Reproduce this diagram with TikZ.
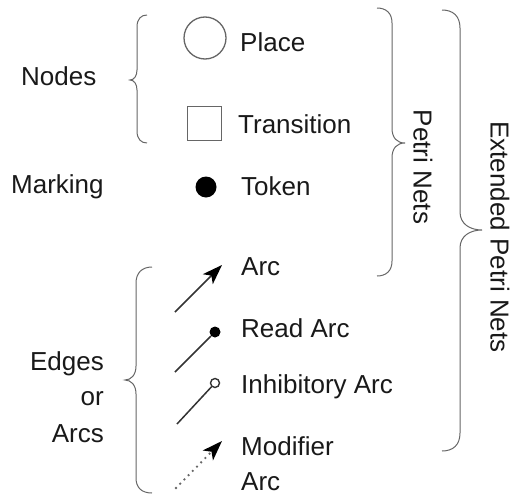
\documentclass[tikz,border=0pt]{standalone}
\usepackage{fontspec}
\setmainfont{Liberation Sans}
\usetikzlibrary{arrows.meta}
\begin{document}
\begin{tikzpicture}[x=1pt,y=-1pt,
  lbl/.style={font=\fontsize{26}{30}\selectfont, inner sep=0pt, text=black!90},
  brc/.style={draw=black!60, line width=1pt},
  shp/.style={draw=black!60, line width=1.3pt},
  arcline/.style={draw=black!80, line width=1.5pt},
  tip/.style={-{Stealth[length=20pt,width=14pt,inset=5pt,black]}}]
\useasboundingbox (0,0) rectangle (518,495);
% braces
\draw[brc] (147,15) .. controls (141,15) and (137,19) .. (137,27) -- (137,70)
  .. controls (137,76) and (134,80) .. (130,80)
  .. controls (134,80) and (137,84) .. (137,90) -- (137,131)
  .. controls (137,139) and (141,143) .. (147,143);
\draw[brc] (152,267) .. controls (142,267) and (136,273) .. (136,283) -- (136,366)
  .. controls (136,375) and (131,380) .. (125,380)
  .. controls (131,380) and (136,385) .. (136,394) -- (136,478)
  .. controls (136,488) and (142,493) .. (152,493);
\draw[brc] (377,8) .. controls (386,8) and (392,13) .. (392,23) -- (392,128)
  .. controls (392,138) and (397,143) .. (405,143)
  .. controls (397,143) and (392,148) .. (392,158) -- (392,261)
  .. controls (392,271) and (386,276) .. (377,276);
\draw[brc] (442,10) .. controls (453,10) and (460,16) .. (460,28) -- (460,212)
  .. controls (460,224) and (470,230) .. (482,230)
  .. controls (470,230) and (460,236) .. (460,248) -- (460,433)
  .. controls (460,445) and (453,451) .. (442,451);
% left labels
\node[lbl, anchor=base west] (nodes) at (21,85) {Nodes};
\node[lbl, anchor=base west] (marking) at (11,193) {Marking};
\node[lbl, anchor=base east] (edges) at (104,370) {Edges};
\node[lbl, anchor=base east] (or) at (104,405) {or};
\node[lbl, anchor=base east] (arcs) at (104,442) {Arcs};
% shapes
\node[shp, circle, minimum size=42pt, inner sep=0pt] (place) at (205,38) {};
\node[shp, rectangle, minimum size=34pt, inner sep=0pt] (trans) at (204.5,123.5) {};
\node[circle, fill=black, minimum size=21pt, inner sep=0pt] (token) at (206,187) {};
% right labels
\node[lbl, anchor=base west] (tplace) at (240,52) {Place};
\node[lbl, anchor=base west] (ttrans) at (238,133) {Transition};
\node[lbl, anchor=base west] (ttoken) at (241,195) {Token};
\node[lbl, anchor=base west] (tarc) at (241,275) {Arc};
\node[lbl, anchor=base west] (tread) at (241,337) {Read Arc};
\node[lbl, anchor=base west] (tinh) at (241,393) {Inhibitory Arc};
\node[lbl, anchor=base west] (tmod) at (241,455) {Modifier};
\node[lbl, anchor=base west] (tmod2) at (241,490) {Arc};
% rotated labels
\node[lbl, rotate=-90] (petri) at (423,167) {Petri Nets};
\node[lbl, rotate=-90] (ext) at (500,237) {Extended Petri Nets};
% arcs
\coordinate (a1s) at (175,312);
\coordinate (a1e) at (222,265);
\draw[arcline, tip] (a1s) -- (a1e);
\coordinate (a2s) at (175,372);
\node[circle, fill=black, minimum size=11pt, inner sep=0pt] (rd) at (215,332) {};
\draw[arcline] (a2s) -- (rd);
\coordinate (a3s) at (177,424);
\node[circle, draw=black!80, fill=white, line width=1.4pt, minimum size=9pt, inner sep=0pt] (ih) at (215,383) {};
\draw[arcline] (a3s) -- (ih);
\coordinate (a4s) at (176,488);
\coordinate (a4e) at (222,441);
\draw[draw=black!60, line width=2.6pt, line cap=round, dash pattern=on 0pt off 6pt, tip] (a4s) -- (a4e);
\end{tikzpicture}
\end{document}
